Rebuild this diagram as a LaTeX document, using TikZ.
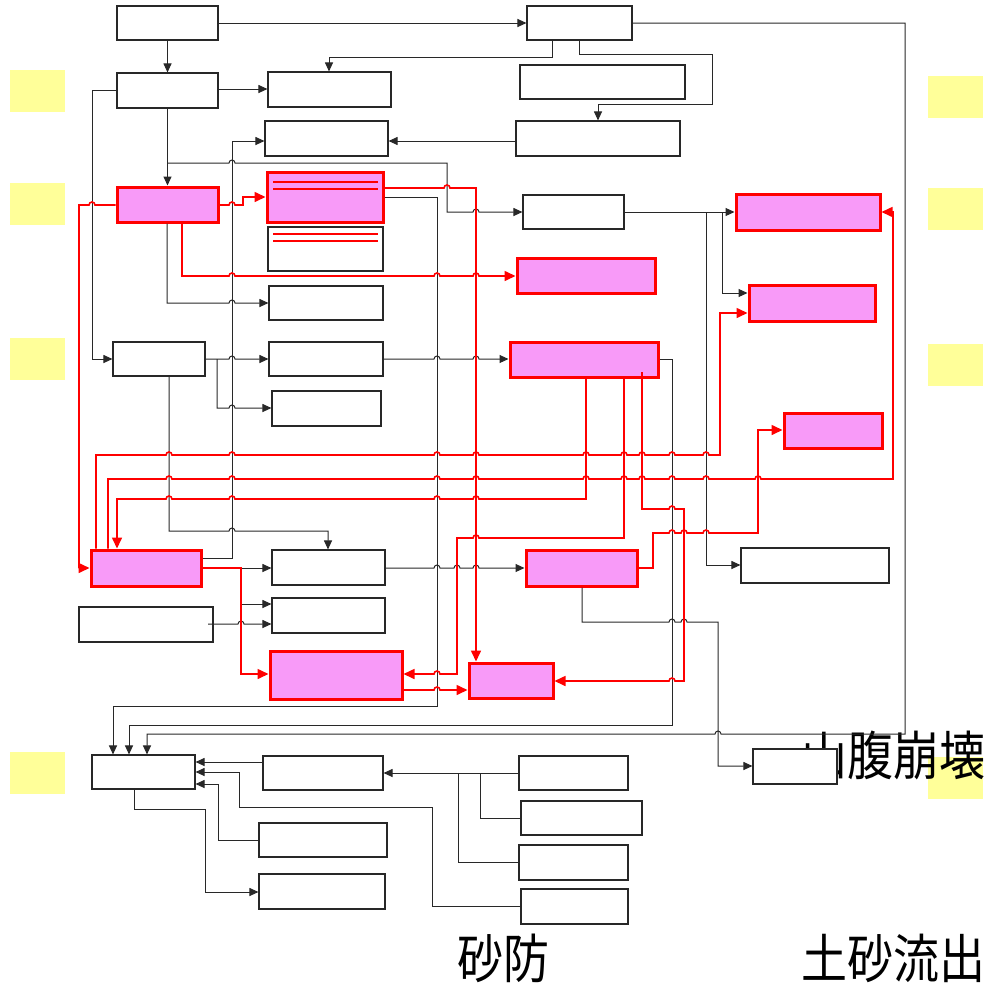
\documentclass[tikz,border=0pt]{standalone}
\usepackage{fontspec}
\usepackage{graphicx}
\newfontfamily\jpfont{Noto Sans CJK JP}
\usetikzlibrary{arrows.meta,fit}
\definecolor{pinkfill}{RGB}{248,154,248}
\definecolor{hiyellow}{RGB}{255,255,153}
\definecolor{lnc}{RGB}{40,40,40}
\newcommand\hopR[2]{-- (#1-3,#2) arc[start angle=180,end angle=360,radius=3]}
\newcommand\hopL[2]{-- (#1+3,#2) arc[start angle=0,end angle=-180,radius=3]}
\tikzset{
 wbox/.style={draw=lnc, line width=1.1pt, fill=white, inner sep=0pt},
 pbox/.style={draw=red, line width=3pt, fill=pinkfill, inner sep=0pt},
 ybox/.style={fill=hiyellow, draw=none, inner sep=0pt, outer sep=0pt},
 bl/.style={draw=lnc, line width=1pt},
 ba/.style={bl, -{Triangle[length=9pt,width=8pt]}},
 rl/.style={draw=red, line width=1.6pt},
 ra/.style={rl, -{Triangle[length=11pt,width=10pt]}},
 jtext/.style={inner sep=0pt, font=\jpfont\fontsize{46}{46}\selectfont},
}
\begin{document}
\begin{tikzpicture}[x=1pt,y=-1pt]
\useasboundingbox (0,0) rectangle (987,985);
% yellow markers
\node[ybox, fit={(10,70) (65,112)}] (y1) {};
\node[ybox, fit={(10,183) (65,225)}] (y2) {};
\node[ybox, fit={(10,338) (65,380)}] (y3) {};
\node[ybox, fit={(10,752) (65,794)}] (y4) {};
\node[ybox, fit={(928,76) (983,118)}] (y5) {};
\node[ybox, fit={(928,188) (983,230)}] (y6) {};
\node[ybox, fit={(928,344) (983,386)}] (y7) {};
\node[ybox, fit={(928,757) (983,799)}] (y8) {};
% texts
\node[jtext, anchor=south east] (t1) at (986,780) {\scalebox{1}[1.15]{山腹崩壊}};
\node[jtext, anchor=south west] (t2) at (801,983) {\scalebox{1}[1.15]{土砂流出}};
\node[jtext, anchor=south west] (t3) at (457,983) {\scalebox{1}[1.15]{砂防}};
% white boxes
\node[wbox, fit={(117,6) (218,40)}] (A) {};
\node[wbox, fit={(527,6) (632,40)}] (G) {};
\node[wbox, fit={(117,73) (218,108)}] (B) {};
\node[wbox, fit={(268,72) (391,107)}] (C) {};
\node[wbox, fit={(520,65) (685,99)}] (H) {};
\node[wbox, fit={(265,121) (388,156)}] (D) {};
\node[wbox, fit={(516,121) (680,156)}] (I) {};
\node[wbox, fit={(523,195) (624,229)}] (J) {};
\node[wbox, fit={(268,227) (383,271)}] (E) {};
\node[wbox, fit={(269,286) (383,320)}] (F) {};
\node[wbox, fit={(113,342) (205,376)}] (K) {};
\node[wbox, fit={(269,342) (383,376)}] (L) {};
\node[wbox, fit={(272,391) (381,426)}] (M) {};
\node[wbox, fit={(272,550) (385,585)}] (N) {};
\node[wbox, fit={(272,598) (385,633)}] (Q) {};
\node[wbox, fit={(79,607) (213,642)}] (O) {};
\node[wbox, fit={(741,548) (889,583)}] (R) {};
\node[wbox, fit={(92,755) (195,789)}] (S) {};
\node[wbox, fit={(263,756) (383,790)}] (T) {};
\node[wbox, fit={(259,823) (387,857)}] (U) {};
\node[wbox, fit={(259,874) (385,909)}] (V) {};
\node[wbox, fit={(519,756) (628,790)}] (W) {};
\node[wbox, fit={(521,801) (642,835)}] (X) {};
\node[wbox, fit={(519,845) (628,880)}] (Y) {};
\node[wbox, fit={(521,889) (628,924)}] (Z) {};
\node[wbox, fit={(753,749) (837,784)}] (AA) {};
% pink boxes
\node[pbox, fit={(117,187) (218,222)}] (P1) {};
\node[pbox, fit={(267,172) (383,222)}] (P2) {};
\node[pbox, fit={(736,194) (880,230)}] (P3) {};
\node[pbox, fit={(517,258) (655,293)}] (P4) {};
\node[pbox, fit={(749,285) (875,321)}] (P5) {};
\node[pbox, fit={(510,342) (658,377)}] (P9) {};
\node[pbox, fit={(784,413) (882,448)}] (P10) {};
\node[pbox, fit={(91,550) (201,586)}] (P6) {};
\node[pbox, fit={(526,550) (637,586)}] (P11) {};
\node[pbox, fit={(270,651) (402,699)}] (P7) {};
\node[pbox, fit={(469,663) (553,698)}] (P8) {};
% red rules inside boxes
\draw[red, line width=1.2pt] (273,182) -- (378,182) (273,189) -- (378,189);
\draw[red, line width=1.2pt] (273,234) -- (378,234) (273,241) -- (378,241);
% ---- black connectors
\draw[ba] (A.east) -- (G.west);
\draw[ba] (A.south) -- (B.north);
\draw[ba] (G.south -| 552,0) -- (552,57) -- (329,57) -- (C.north -| 329,0);
\draw[ba] (G.south -| 579,0) -- (579,54) -- (712,54) -- (712,104) -- (598,104) -- (I.north -| 598,0);
\draw[ba] (G.east) -- (905,23) -- (905,734) \hopL{718}{734} -- (147,734) -- (S.north -| 147,0);
\draw[ba] (B.east |- 0,89) -- (C.west |- 0,89);
\draw[ba] (I.west |- 0,141) -- (D.east |- 0,141);
\draw[ba] (P6.east |- 0,558) -- (232,558) -- (232,141) -- (D.west |- 0,141);
\draw[ba] (B.south) -- (P1.north);
\draw[ba] (167,163) \hopR{232}{163} -- (447,163) -- (447,212) \hopR{476}{212} -- (J.west |- 0,212);
\draw[ba] (B.west |- 0,90) -- (92,90) -- (92,359) -- (K.west |- 0,359);
\draw[ba] (P1.south -| 167,0) -- (167,303) \hopR{232}{303} -- (F.west |- 0,303);
\draw[ba] (P2.east |- 0,197) -- (437,197) -- (437,706) -- (113,706) -- (S.north -| 113,0);
\draw[ba] (K.east |- 0,359) \hopR{232}{359} -- (L.west |- 0,359);
\draw[ba] (217,359) -- (217,408) \hopR{232}{408} -- (M.west |- 0,408);
\draw[ba] (L.east |- 0,359) \hopR{437}{359} \hopR{476}{359} -- (P9.west |- 0,359);
\draw[ba] (K.south -| 169,0) -- (169,531) \hopR{232}{531} -- (328,531) -- (N.north -| 328,0);
\draw[ba] (P6.east |- 0,568) -- (N.west |- 0,568);
\draw[ba] (241,568) -- (241,604) -- (Q.west |- 0,604);
\draw[ba] (208,624) \hopR{241}{624} -- (Q.west |- 0,624);
\draw[ba] (P9.east |- 0,359) -- (672,359) -- (672,725) -- (129,725) -- (S.north -| 129,0);
\draw[ba] (P11.south -| 582,0) -- (582,622) \hopR{672}{622} \hopR{684}{622} -- (718,622) -- (718,766) -- (AA.west |- 0,766);
\draw[ba] (N.east |- 0,568) \hopR{437}{568} \hopR{457}{568} \hopR{476}{568} -- (P11.west |- 0,568);
\draw[ba] (J.east |- 0,212) -- (P3.west |- 0,212);
\draw[ba] (706,212) -- (706,565) -- (R.west |- 0,565);
\draw[ba] (722,212) -- (722,293) -- (P5.west |- 0,293);
% lower part
\draw[ba] (T.west |- 0,762) -- (S.east |- 0,762);
\draw[ba] (Z.west |- 0,906) -- (432,906) -- (432,807) -- (239,807) -- (239,772) -- (S.east |- 0,772);
\draw[ba] (U.west |- 0,840) -- (218,840) -- (218,784) -- (S.east |- 0,784);
\draw[ba] (S.south -| 134,0) -- (134,809) -- (205,809) -- (205,892) -- (V.west |- 0,892);
\draw[ba] (W.west |- 0,773) -- (T.east |- 0,773);
\draw[bl] (X.west |- 0,818) -- (480,818) -- (480,773);
\draw[bl] (Y.west |- 0,862) -- (458,862) -- (458,773);
% ---- red connectors
\draw[ra] (P1.east |- 0,205) \hopR{232}{205} -- (243,205) -- (243,197) -- (P2.west |- 0,197);
\draw[ra] (P1.west |- 0,205) \hopL{92}{205} -- (79,205) -- (79,568) -- (P6.west |- 0,568);
\draw[ra] (P1.south -| 182,0) -- (182,276) \hopR{232}{276} \hopR{437}{276} \hopR{476}{276} -- (P4.west |- 0,276);
\draw[ra] (P2.east |- 0,188) \hopR{447}{188} -- (476,188) -- (P8.north -| 476,0);
\draw[ra] (P6.east |- 0,568) -- (241,568) -- (241,674) -- (P7.west |- 0,674);
\draw[ra] (P6.north -| 96,0) -- (96,455) \hopR{169}{455} \hopR{232}{455} \hopR{437}{455} \hopR{476}{455} \hopR{586}{455} \hopR{624}{455} \hopR{642}{455} \hopR{672}{455} \hopR{706}{455} -- (720,455) -- (720,313) -- (P5.west |- 0,313);
\draw[ra] (P6.north -| 108,0) -- (108,479) \hopR{169}{479} \hopR{232}{479} \hopR{437}{479} \hopR{476}{479} \hopR{586}{479} \hopR{624}{479} \hopR{642}{479} \hopR{672}{479} \hopR{706}{479} \hopR{758}{479} -- (893,479) -- (893,212) -- (P3.east |- 0,212);
\draw[ra] (P9.south -| 586,0) -- (586,499) \hopL{476}{499} \hopL{437}{499} \hopL{232}{499} \hopL{169}{499} -- (117,499) -- (P6.north -| 117,0);
\draw[ra] (P9.south -| 624,0) -- (624,538) \hopL{476}{538} -- (457,538) -- (457,674) \hopL{437}{674} -- (P7.east |- 0,674);
\draw[ra] (642,372) -- (642,509) \hopR{672}{509} -- (684,509) -- (684,681) \hopL{672}{681} -- (P8.east |- 0,681);
\draw[ra] (P11.east |- 0,568) -- (653,568) -- (653,533) \hopR{672}{533} \hopR{684}{533} \hopR{706}{533} -- (758,533) -- (758,430) -- (P10.west |- 0,430);
\draw[ra] (P7.east |- 0,690) \hopR{437}{690} -- (P8.west |- 0,690);
\end{tikzpicture}
\end{document}
